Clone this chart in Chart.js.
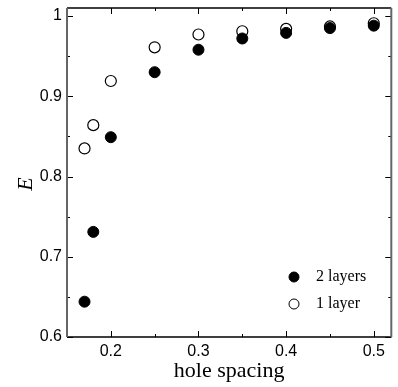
<!DOCTYPE html>
<html>
<head>
<meta charset="utf-8">
<script src="https://cdn.jsdelivr.net/npm/chart.js@4"></script>
<style>
  html, body { margin: 0; padding: 0; background: #fff; }
  #wrap { width: 398px; height: 387px; }
</style>
</head>
<body>
<div id="wrap"><canvas id="chart-E"></canvas></div>
<script>
const spacing = [0.17, 0.18, 0.2, 0.25, 0.3, 0.35, 0.4, 0.45, 0.5];
const twoLayers = [0.644, 0.731, 0.849, 0.930, 0.958, 0.972, 0.979, 0.985, 0.988];
const oneLayer = [0.835, 0.864, 0.919, 0.961, 0.977, 0.981, 0.984, 0.987, 0.991];
const xTicks = [0.2, 0.3, 0.4, 0.5];
const xMinor = [0.25, 0.35, 0.45];
const yTicks = [0.6, 0.7, 0.8, 0.9, 1];
const yMinor = [0.65, 0.75, 0.85, 0.95];

const tickFont = { family: 'Liberation Sans, Arial, sans-serif', size: 16 };

// ticks pointing inwards on all four sides + frame
const frameTicks = {
  id: 'frameTicks',
  afterDraw(chart) {
    const ctx = chart.ctx;
    const a = chart.chartArea;
    const xs = chart.scales.x, ys = chart.scales.y;
    ctx.save();
    ctx.strokeStyle = '#000';
    ctx.lineWidth = 1;
    xTicks.concat(xMinor).forEach(v => {
      let len = xTicks.includes(v) ? 6 : 3;
      let px = Math.round(xs.getPixelForValue(v)) + 0.5;
      ctx.beginPath();
      ctx.moveTo(px, a.bottom); ctx.lineTo(px, a.bottom - len);
      ctx.moveTo(px, a.top); ctx.lineTo(px, a.top + len);
      ctx.stroke();
    });
    yTicks.concat(yMinor).forEach(v => {
      let len = yTicks.includes(v) ? 6 : 3;
      let py = Math.round(ys.getPixelForValue(v)) + 0.5;
      ctx.beginPath();
      ctx.moveTo(a.left, py); ctx.lineTo(a.left + len, py);
      ctx.moveTo(a.right, py); ctx.lineTo(a.right - len, py);
      ctx.stroke();
    });
    // frame
    ctx.lineWidth = 1.5;
    ctx.strokeStyle = '#000';
    ctx.beginPath();
    ctx.moveTo(a.left, a.top); ctx.lineTo(a.right, a.top);
    ctx.moveTo(a.left, a.bottom); ctx.lineTo(a.right, a.bottom);
    ctx.stroke();
    ctx.strokeStyle = '#666';
    ctx.lineWidth = 2;
    ctx.beginPath();
    ctx.moveTo(a.left, a.top); ctx.lineTo(a.left, a.bottom);
    ctx.moveTo(a.right, a.top); ctx.lineTo(a.right, a.bottom);
    ctx.stroke();

    // axis titles
    ctx.fillStyle = '#000';
    ctx.font = '22px "Liberation Serif", "Times New Roman", serif';
    ctx.textAlign = 'center';
    ctx.textBaseline = 'alphabetic';
    ctx.fillText('hole spacing', (a.left + a.right) / 2, 377);
    ctx.save();
    ctx.translate(32, 184);
    ctx.rotate(-Math.PI / 2);
    ctx.font = 'italic 22px "Liberation Serif", "Times New Roman", serif';
    ctx.fillText('E', 0, 0);
    ctx.restore();

    // legend inside the plot
    const items = [
      { label: '2 layers', fill: '#000' },
      { label: '1 layer', fill: '#fff' }
    ];
    ctx.font = '16px "Liberation Serif", "Times New Roman", serif';
    ctx.textAlign = 'left';
    ctx.textBaseline = 'middle';
    items.forEach((it, i) => {
      let cx = a.left + 227, cy = a.top + 269 + i * 27;
      ctx.beginPath();
      ctx.arc(cx, cy, 5, 0, Math.PI * 2);
      ctx.fillStyle = it.fill;
      ctx.fill();
      ctx.strokeStyle = '#000';
      ctx.lineWidth = 1;
      ctx.stroke();
      ctx.fillStyle = '#000';
      ctx.fillText(it.label, cx + 22, cy);
    });
    ctx.restore();
  }
};

const ctxE = document.getElementById('chart-E');

new Chart(ctxE, {
  type: 'scatter',
  data: {
    datasets: [{
      label: '2 layers',
      data: spacing.map((x, i) => ({ x: x, y: twoLayers[i] })),
      backgroundColor: '#000',
      borderColor: '#000',
      pointRadius: 5.5,
      borderWidth: 1
    }, {
      label: '1 layer',
      data: spacing.map((x, i) => ({ x: x, y: oneLayer[i] })),
      backgroundColor: 'rgba(255,255,255,0)',
      borderColor: '#000',
      pointRadius: 5.5,
      borderWidth: 1.2
    }]
  },
  options: {
    responsive: true,
    maintainAspectRatio: false,
    animation: false,
    layout: { padding: { top: 8, right: 3, left: 0, bottom: 0 } },
    plugins: {
      legend: { display: false },
      tooltip: { enabled: false }
    },
    scales: {
      x: {
        type: 'linear',
        min: 0.15,
        max: 0.52,
        grid: { display: false, drawTicks: false },
        border: { display: false },
        afterBuildTicks: (scale) => { scale.ticks = xTicks.map(v => ({ value: v })); },
        afterFit: (scale) => {
          scale.height = 50;
          scale.paddingLeft = 0;
          scale.paddingRight = 0;
        },
        ticks: {
          color: '#000',
          font: tickFont,
          padding: 5,
          maxRotation: 0,
          callback: (v) => v.toFixed(1)
        }
      },
      y: {
        type: 'linear',
        min: 0.6,
        max: 1.01,
        grid: { display: false, drawTicks: false },
        border: { display: false },
        afterBuildTicks: (scale) => { scale.ticks = yTicks.map(v => ({ value: v })); },
        afterFit: (scale) => {
          scale.width = 67;
          scale.paddingTop = 0;
          scale.paddingBottom = 0;
        },
        ticks: {
          color: '#000',
          font: tickFont,
          padding: 5,
          callback: (v) => (v === 1 ? '1' : v.toFixed(1))
        }
      }
    }
  },
  plugins: [frameTicks]
});
</script>
</body>
</html>
